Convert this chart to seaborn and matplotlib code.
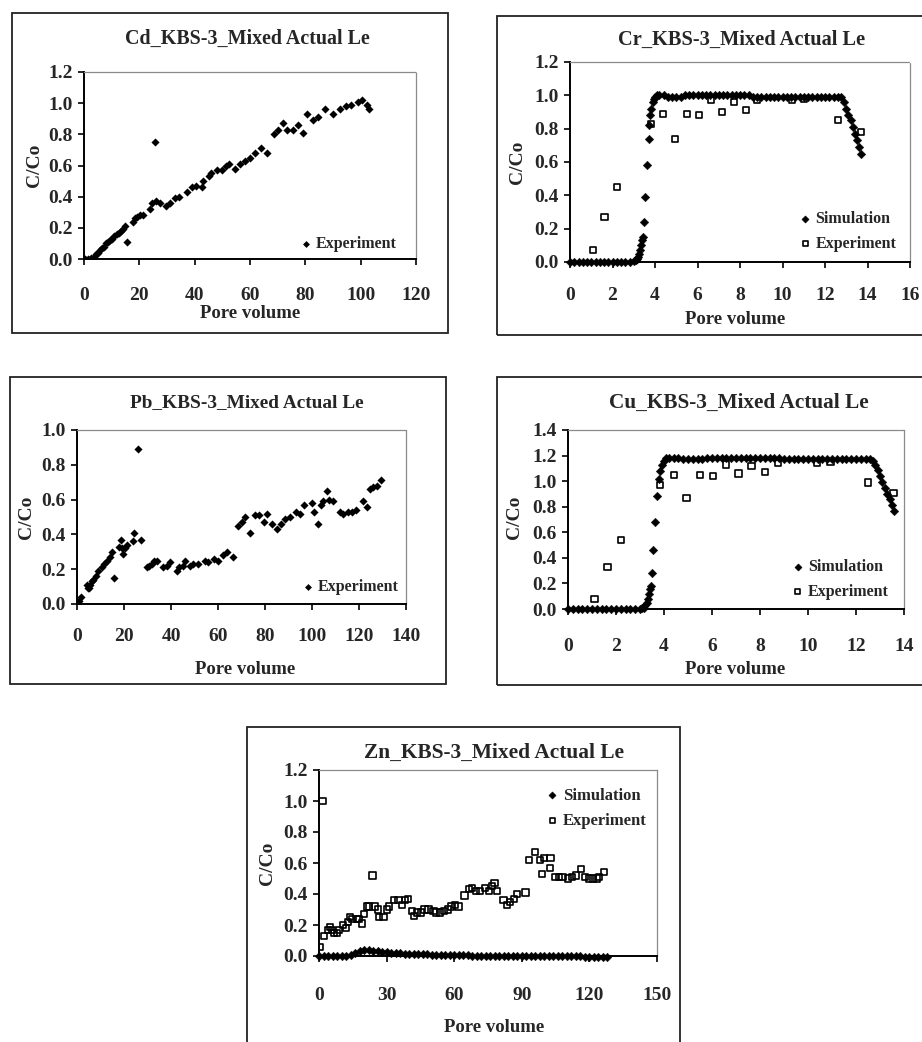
import pandas as pd
import seaborn as sns
import matplotlib.pyplot as plt
from matplotlib.patches import Rectangle
from matplotlib.ticker import FormatStrFormatter

# ---- Cd: experiment only
cd_pv = [0.5, 1.5, 2.5, 3.5,
         4.2, 5.0, 5.8, 6.5, 7.2, 8.0, 8.8, 9.5, 10.2, 11.0, 11.8, 12.5, 13.2, 14.0, 14.8,
         15.4, 17.8, 18.5, 19.0, 20.2, 21.4, 23.9, 24.5, 25.7, 26.0, 27.5,
         29.6, 31.0, 32.9, 34.5, 37.1, 38.9, 40.4, 42.5, 43.0,
         45.0, 46.0, 48.2, 49.8, 51.3, 52.5, 54.6, 56.4, 58.2, 60.0, 61.8, 63.9, 66.0,
         68.7, 70.2, 72.0, 73.3, 75.7, 77.5, 79.0, 80.5, 82.9, 84.7, 87.1, 89.9,
         92.5, 94.6, 96.4, 99.2, 100.4, 102.2, 103.1]
cd_c = [0.0, 0.0, 0.005, 0.01,
        0.03, 0.04, 0.06, 0.07, 0.08, 0.10, 0.11, 0.12, 0.13, 0.15, 0.16, 0.17, 0.18, 0.19, 0.21,
        0.11, 0.24, 0.26, 0.27, 0.28, 0.28, 0.32, 0.36, 0.75, 0.37, 0.36,
        0.34, 0.36, 0.39, 0.40, 0.43, 0.46, 0.47, 0.46, 0.50,
        0.53, 0.55, 0.57, 0.57, 0.60, 0.61, 0.58, 0.61, 0.63, 0.65, 0.68, 0.71, 0.68,
        0.80, 0.83, 0.87, 0.83, 0.83, 0.86, 0.81, 0.93, 0.89, 0.91, 0.96, 0.93,
        0.96, 0.98, 0.99, 1.01, 1.02, 0.99, 0.96]

# ---- Pb: experiment only
pb_pv = [0.9, 1.7, 4.1, 4.5, 5.1, 5.5, 6.2, 7.0, 7.9, 9.1, 10.5, 11.6, 12.9, 14.0, 14.8,
         15.6, 17.9, 18.6, 19.0, 19.7, 20.4, 21.1, 24.0, 24.4, 25.8, 27.2,
         29.6, 30.8, 31.8, 32.9, 33.9, 36.7, 38.2, 39.6, 42.4, 43.4, 45.2, 46.0,
         48.1, 49.5, 51.6, 54.5, 55.9, 58.4, 60.1, 62.3, 63.7, 66.2,
         68.7, 70.0, 71.5, 73.6, 75.7, 77.6, 79.7, 80.7, 83.1, 85.0, 86.8, 88.5, 90.6,
         93.0, 94.9, 96.7, 99.9, 101.0, 102.7, 103.8, 104.8, 106.2, 107.2, 109.1,
         111.9, 113.3, 115.2, 116.9, 118.6, 121.8, 123.3, 124.7, 126.1, 127.5, 129.4]
pb_c = [0.02, 0.04, 0.11, 0.09, 0.09, 0.11, 0.13, 0.14, 0.16, 0.19, 0.21, 0.23, 0.25, 0.27, 0.30,
        0.15, 0.33, 0.37, 0.32, 0.29, 0.32, 0.34, 0.36, 0.41, 0.89, 0.37,
        0.21, 0.22, 0.23, 0.25, 0.25, 0.21, 0.22, 0.24, 0.19, 0.21, 0.22, 0.25,
        0.22, 0.23, 0.23, 0.25, 0.24, 0.26, 0.25, 0.28, 0.30, 0.27,
        0.45, 0.47, 0.50, 0.41, 0.51, 0.51, 0.47, 0.52, 0.46, 0.43, 0.46, 0.49, 0.50,
        0.53, 0.52, 0.57, 0.58, 0.53, 0.46, 0.57, 0.59, 0.65, 0.60, 0.59,
        0.53, 0.52, 0.53, 0.53, 0.54, 0.59, 0.56, 0.66, 0.67, 0.68, 0.71]

# ---- Cr: simulation + experiment
cr_sim_pv = [0.0, 0.2, 0.4, 0.6, 0.8, 1.0, 1.2, 1.4, 1.6, 1.8, 2.0, 2.2, 2.4, 2.6, 2.8, 3.0,
             3.1, 3.15, 3.2, 3.26, 3.3, 3.36, 3.4, 3.44, 3.47, 3.55, 3.62, 3.7, 3.74, 3.78, 3.83, 3.89, 3.94, 3.99,
             4.1, 4.2, 4.4, 4.6, 4.8, 5.0, 5.2, 5.4, 5.6, 5.8, 6.0, 6.2, 6.4, 6.6, 6.8, 7.0, 7.2, 7.4,
             7.6, 7.8, 8.0, 8.2, 8.4, 8.6, 8.8, 9.0, 9.2, 9.4, 9.6, 9.8, 10.0, 10.2, 10.4, 10.6, 10.8,
             11.0, 11.2, 11.4, 11.6, 11.8, 12.0, 12.2, 12.4, 12.6, 12.75,
             12.9, 13.0, 13.1, 13.2, 13.3, 13.4, 13.5, 13.6, 13.7]
cr_sim_c = [0.0, 0.0, 0.0, 0.0, 0.0, 0.0, 0.0, 0.0, 0.0, 0.0, 0.0, 0.0, 0.0, 0.0, 0.0, 0.005,
            0.01, 0.02, 0.03, 0.05, 0.07, 0.10, 0.13, 0.15, 0.24, 0.39, 0.58, 0.74, 0.82, 0.88, 0.92, 0.96, 0.98, 0.99,
            1.0, 1.0, 1.0, 0.99, 0.99, 0.99, 0.99, 1.0, 1.0, 1.0, 1.0, 1.0, 1.0, 1.0, 1.0, 1.0, 1.0, 1.0,
            1.0, 1.0, 1.0, 1.0, 1.0, 0.99, 0.99, 0.99, 0.99, 0.99, 0.99, 0.99, 0.99, 0.99, 0.99, 0.99, 0.99,
            0.99, 0.99, 0.99, 0.99, 0.99, 0.99, 0.99, 0.99, 0.99, 0.99,
            0.96, 0.92, 0.88, 0.85, 0.81, 0.77, 0.73, 0.69, 0.65]
cr_exp_pv = [1.1, 1.62, 2.21, 3.83, 4.38, 4.93, 5.5, 6.07, 6.62, 7.17, 7.72, 8.27, 8.79, 10.45, 11.0, 12.6, 13.71]
cr_exp_c = [0.07, 0.27, 0.45, 0.83, 0.89, 0.74, 0.89, 0.88, 0.97, 0.90, 0.96, 0.91, 0.97, 0.97, 0.98, 0.85, 0.78]

# ---- Cu: simulation + experiment
cu_sim_pv = [0.0, 0.2, 0.4, 0.6, 0.8, 1.0, 1.2, 1.4, 1.6, 1.8, 2.0, 2.2, 2.4, 2.6, 2.8, 3.0,
             3.1, 3.15, 3.22, 3.28, 3.33, 3.38, 3.42, 3.45, 3.51, 3.56, 3.63, 3.72, 3.79, 3.84, 3.9, 4.0, 4.1,
             4.2, 4.4, 4.6, 4.8, 5.0, 5.2, 5.4, 5.6, 5.8, 6.0, 6.2, 6.4, 6.6, 6.8, 7.0, 7.2, 7.4,
             7.6, 7.8, 8.0, 8.2, 8.4, 8.6, 8.8, 9.0, 9.2, 9.4, 9.6, 9.8, 10.0, 10.2, 10.4, 10.6, 10.8,
             11.0, 11.2, 11.4, 11.6, 11.8, 12.0, 12.2, 12.4, 12.6,
             12.7, 12.8, 12.9, 13.0, 13.1, 13.2, 13.3, 13.4, 13.5, 13.6]
cu_sim_c = [0.0, 0.0, 0.0, 0.0, 0.0, 0.0, 0.0, 0.0, 0.0, 0.0, 0.0, 0.0, 0.0, 0.0, 0.0, 0.0,
            0.005, 0.01, 0.03, 0.05, 0.08, 0.12, 0.16, 0.18, 0.28, 0.46, 0.68, 0.88, 1.02, 1.08, 1.13, 1.16, 1.18,
            1.18, 1.18, 1.18, 1.17, 1.17, 1.17, 1.17, 1.17, 1.18, 1.18, 1.18, 1.18, 1.18, 1.18, 1.18, 1.18, 1.18,
            1.18, 1.18, 1.18, 1.18, 1.18, 1.18, 1.18, 1.17, 1.17, 1.17, 1.17, 1.17, 1.17, 1.17, 1.17, 1.17, 1.17,
            1.17, 1.17, 1.17, 1.17, 1.17, 1.17, 1.17, 1.17, 1.17,
            1.16, 1.13, 1.09, 1.04, 0.99, 0.95, 0.90, 0.86, 0.81, 0.77]
cu_exp_pv = [1.10, 1.65, 2.21, 3.83, 4.42, 4.94, 5.50, 6.03, 6.58, 7.10, 7.65, 8.21, 8.76, 10.39, 10.94, 12.49, 13.56]
cu_exp_c = [0.08, 0.33, 0.54, 0.97, 1.05, 0.87, 1.05, 1.04, 1.13, 1.06, 1.12, 1.07, 1.14, 1.14, 1.15, 0.99, 0.91]

# ---- Zn: simulation + experiment
zn_sim_pv = [0, 2, 4, 6, 8, 10, 12, 14, 16, 18, 20, 22, 24, 26, 28, 30, 32, 34, 36, 38, 40,
             42, 44, 46, 48, 50, 52, 54, 56, 58, 60, 62, 64, 66, 68, 70, 72, 74, 76, 78, 80,
             82, 84, 86, 88, 90, 92, 94, 96, 98, 100, 102, 104, 106, 108, 110, 112, 114, 116, 118, 120,
             122, 124, 126, 128]
zn_sim_c = [0.0, 0.0, 0.0, 0.0, 0.0, 0.0, 0.001, 0.005, 0.02, 0.035, 0.04, 0.038, 0.034, 0.03, 0.027, 0.024,
            0.022, 0.02, 0.018, 0.016, 0.015, 0.013, 0.012, 0.011, 0.01, 0.009, 0.008, 0.007, 0.006, 0.006,
            0.005, 0.005, 0.004, 0.004, 0.003, 0.003, 0.002, 0.002, 0.002, 0.001, 0.001, 0.001, 0.0, 0.0,
            0.0, 0.0, 0.0, -0.001, -0.001, -0.001, -0.002, -0.002, -0.002, -0.002, -0.003, -0.003, -0.003,
            -0.003, -0.003, -0.004, -0.004, -0.004, -0.004, -0.004, -0.004]
zn_exp_pv = [0.5, 1.6, 2.1, 4.1, 4.9, 5.9, 6.8, 7.9, 8.9, 10.8, 11.9, 12.7, 13.8, 14.8,
             16.7, 17.8, 19.0, 20.1, 21.2, 22.2, 23.7, 24.9, 26.1, 26.7, 28.6,
             30.1, 31.1, 33.3, 35.3, 37.0, 38.2, 39.4, 41.2, 42.2, 43.4, 45.3, 46.8, 48.6,
             50.8, 51.9, 53.8, 55.3, 57.2, 58.7, 60.4, 61.9,
             64.6, 66.4, 67.9, 69.6, 71.6, 73.8, 75.3, 76.7, 77.9, 79.0,
             81.9, 83.4, 84.9, 86.4, 87.9, 91.6, 93.3, 95.7, 98.2, 99.7, 102.7, 99.0, 102.5,
             104.6, 106.4, 108.1, 110.5, 112.3, 114.1, 116.3, 117.9, 119.7, 121.5, 123.4, 124.4, 126.4]
zn_exp_c = [0.06, 1.0, 0.13, 0.17, 0.185, 0.17, 0.15, 0.15, 0.17, 0.20, 0.18, 0.22, 0.25, 0.24,
            0.24, 0.24, 0.21, 0.27, 0.32, 0.32, 0.52, 0.32, 0.30, 0.25, 0.25,
            0.30, 0.32, 0.36, 0.36, 0.33, 0.36, 0.37, 0.29, 0.26, 0.28, 0.28, 0.30, 0.30,
            0.29, 0.28, 0.28, 0.29, 0.30, 0.32, 0.33, 0.32,
            0.39, 0.43, 0.44, 0.42, 0.42, 0.44, 0.42, 0.45, 0.47, 0.42,
            0.36, 0.33, 0.35, 0.37, 0.40, 0.41, 0.62, 0.67, 0.62, 0.63, 0.63, 0.53, 0.57,
            0.51, 0.51, 0.51, 0.50, 0.51, 0.52, 0.56, 0.51, 0.50, 0.50, 0.50, 0.51, 0.54]

sns.set_theme(style="ticks")
plt.rcParams["font.family"] = ["Liberation Serif", "DejaVu Serif"]
plt.rcParams["font.weight"] = "bold"

W, H = 922, 1042
fig = plt.figure(figsize=(W / 100, H / 100), dpi=100)
fig.patch.set_facecolor("white")


def fx(x):
    return x / W


def fy(y):
    return 1 - y / H


def panel(left, top, right, bottom):
    return fig.add_axes([fx(left), fy(bottom), (right - left) / W, (bottom - top) / H])


def dress(ax, xlim, xticks, ylim, yticks, xpad):
    ax.set_xlim(xlim)
    ax.set_ylim(ylim)
    ax.set_xticks(xticks)
    ax.set_yticks(yticks)
    ax.yaxis.set_major_formatter(FormatStrFormatter("%.1f"))
    ax.set_xlabel("")
    ax.set_ylabel("")
    ax.set_facecolor("white")
    for side in ["left", "bottom"]:
        ax.spines[side].set_color("black")
        ax.spines[side].set_linewidth(1.4)
    for side in ["top", "right"]:
        ax.spines[side].set_visible(True)
        ax.spines[side].set_color("#8a8a8a")
        ax.spines[side].set_linewidth(0.9)
        ax.spines[side].set_linestyle((0, (1, 1)))
    ax.tick_params(axis="both", direction="out", length=4, width=1.2, color="black", labelsize=14)
    ax.tick_params(axis="x", pad=xpad)
    ax.tick_params(axis="y", pad=4)
    for lab in ax.get_xticklabels() + ax.get_yticklabels():
        lab.set_fontweight("bold")


def legend(ax, loc, anchor, size):
    ax.legend(loc=loc, bbox_to_anchor=anchor, frameon=False, borderpad=0, borderaxespad=0,
              handlelength=0.6, handletextpad=0.35, labelspacing=0.55, markerscale=0.85,
              prop={"size": size, "weight": "bold"})


def sim(ax, x, y):
    sns.scatterplot(x=x, y=y, ax=ax, marker="D", s=19, color="black", linewidth=0.3,
                    edgecolor="black", label="Simulation", clip_on=False, zorder=3)


def exp_open(ax, x, y):
    sns.scatterplot(x=x, y=y, ax=ax, marker="s", s=20, color="black", facecolor="none",
                    edgecolor="black", linewidth=1.2, label="Experiment", zorder=4)


def exp_filled(ax, x, y):
    sns.scatterplot(x=x, y=y, ax=ax, marker="D", s=17, color="black", linewidth=0,
                    label="Experiment", zorder=3)


def texts(title, tpos, tsize, ypos, xpos):
    fig.text(fx(tpos[0]), fy(tpos[1]), title, ha="center", va="center", fontsize=tsize, fontweight="bold")
    fig.text(fx(ypos[0]), fy(ypos[1]), "C/Co", ha="center", va="center", rotation=90,
             fontsize=14, fontweight="bold")
    fig.text(fx(xpos[0]), fy(xpos[1]), "Pore volume", ha="center", va="center",
             fontsize=13.5, fontweight="bold")


# outer frames of the five panels
for l, t, r, b in [(12, 13, 448, 333), (497, 16, 935, 335), (10, 377, 446, 684),
                   (497, 377, 935, 685), (247, 727, 680, 1060)]:
    fig.add_artist(Rectangle((fx(l), fy(b)), (r - l) / W, (b - t) / H, transform=fig.transFigure,
                             fill=False, edgecolor="#222222", linewidth=1.3))

# Cd
ax = panel(84, 72, 416, 259)
exp_filled(ax, cd_pv, cd_c)
dress(ax, (0, 120), [0, 20, 40, 60, 80, 100, 120], (0, 1.2), [0, 0.2, 0.4, 0.6, 0.8, 1.0, 1.2], 16)
legend(ax, "lower right", (0.943, 0.035), 11.5)
texts("Cd_KBS-3_Mixed Actual Le", (247, 39), 14.4, (35, 165), (250, 314))

# Cr
ax = panel(570, 62, 910, 262)
sim(ax, cr_sim_pv, cr_sim_c)
exp_open(ax, cr_exp_pv, cr_exp_c)
dress(ax, (0, 16), [0, 2, 4, 6, 8, 10, 12, 14, 16], (0, 1.2), [0, 0.2, 0.4, 0.6, 0.8, 1.0, 1.2], 14)
legend(ax, "lower right", (0.96, 0.05), 11.5)
texts("Cr_KBS-3_Mixed Actual Le", (742, 40), 14.7, (517, 162), (735, 320))

# Pb
ax = panel(77, 430, 406, 604)
exp_filled(ax, pb_pv, pb_c)
dress(ax, (0, 140), [0, 20, 40, 60, 80, 100, 120, 140], (0, 1.0), [0, 0.2, 0.4, 0.6, 0.8, 1.0], 13.5)
legend(ax, "lower right", (0.979, 0.05), 11.5)
texts("Pb_KBS-3_Mixed Actual Le", (247, 403), 13.9, (27, 517), (245, 670))

# Cu
ax = panel(568, 430, 904, 609)
sim(ax, cu_sim_pv, cu_sim_c)
exp_open(ax, cu_exp_pv, cu_exp_c)
dress(ax, (0, 14), [0, 2, 4, 6, 8, 10, 12, 14], (0, 1.4), [0, 0.2, 0.4, 0.6, 0.8, 1.0, 1.2, 1.4], 17)
legend(ax, "lower right", (0.955, 0.05), 11.5)
texts("Cu_KBS-3_Mixed Actual Le", (739, 403), 15.3, (515, 517), (735, 670))

# Zn
ax = panel(319, 770, 657, 956)
sim(ax, zn_sim_pv, zn_sim_c)
exp_open(ax, zn_exp_pv, zn_exp_c)
dress(ax, (0, 150), [0, 30, 60, 90, 120, 150], (0, 1.2), [0, 0.2, 0.4, 0.6, 0.8, 1.0, 1.2], 18)
legend(ax, "upper right", (0.97, 0.905), 12)
texts("Zn_KBS-3_Mixed Actual Le", (494, 753), 15.4, (267, 863), (494, 1028))

fig.savefig("out.png", dpi=100)
